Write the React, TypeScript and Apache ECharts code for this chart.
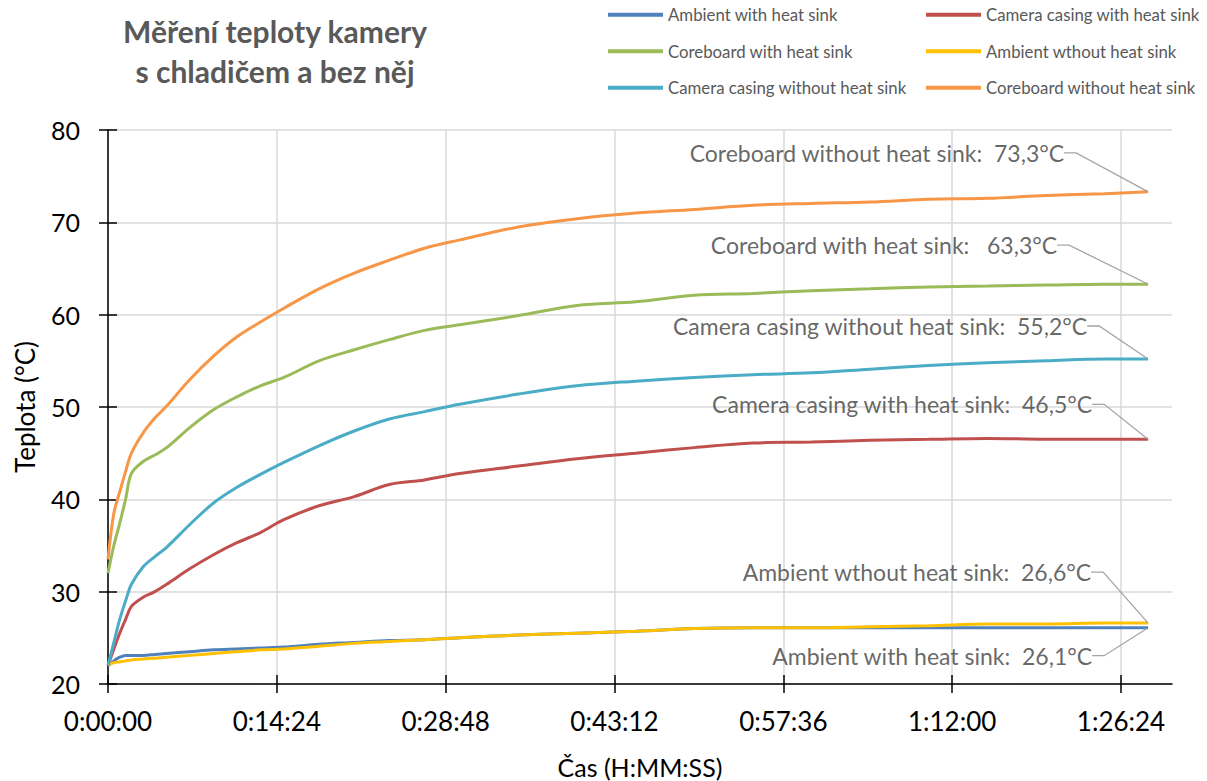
import React, { useEffect, useRef } from 'react';
import * as echarts from 'echarts';

// ---- data ----
const timeSec = [0, 30, 60, 90, 120, 180, 240, 300, 420, 540, 660, 780, 900, 1080, 1260, 1440, 1620, 1800, 2100, 2400, 2700, 3000, 3300, 3600, 3900, 4200, 4500, 4800, 5100, 5323];

const ambientWith = [22.0, 22.5, 22.9, 23.1, 23.1, 23.1, 23.2, 23.3, 23.5, 23.7, 23.8, 23.9, 24.0, 24.3, 24.5, 24.7, 24.8, 25.0, 25.3, 25.5, 25.7, 26.0, 26.1, 26.1, 26.1, 26.1, 26.1, 26.1, 26.1, 26.1];
const cameraWith = [22.0, 23.8, 25.5, 27.0, 28.4, 29.4, 30.0, 30.8, 32.5, 34.0, 35.3, 36.4, 37.8, 39.3, 40.3, 41.6, 42.1, 42.8, 43.6, 44.4, 45.0, 45.6, 46.1, 46.2, 46.4, 46.5, 46.6, 46.5, 46.5, 46.5];
const coreWith = [32.0, 35.0, 37.4, 40.0, 42.8, 44.1, 44.8, 45.6, 47.8, 49.7, 51.1, 52.3, 53.2, 55.0, 56.2, 57.3, 58.3, 58.9, 59.9, 61.0, 61.4, 62.1, 62.3, 62.6, 62.8, 63.0, 63.1, 63.2, 63.3, 63.3];
const ambientWithout = [22.1, 22.3, 22.4, 22.5, 22.6, 22.7, 22.8, 22.9, 23.1, 23.3, 23.5, 23.7, 23.8, 24.1, 24.4, 24.6, 24.8, 25.0, 25.3, 25.5, 25.7, 26.0, 26.1, 26.1, 26.2, 26.3, 26.5, 26.5, 26.6, 26.6];
const cameraWithout = [22.0, 24.5, 27.0, 29.0, 30.8, 32.7, 33.8, 34.8, 37.3, 39.6, 41.3, 42.7, 44.0, 45.8, 47.4, 48.7, 49.5, 50.3, 51.4, 52.3, 52.8, 53.2, 53.5, 53.7, 54.1, 54.5, 54.8, 55.0, 55.2, 55.2];
const coreWithout = [33.5, 38.5, 40.8, 43.0, 45.0, 47.2, 48.8, 50.1, 53.0, 55.5, 57.6, 59.2, 60.7, 62.8, 64.5, 65.9, 67.2, 68.1, 69.5, 70.4, 71.0, 71.4, 71.85, 72.05, 72.2, 72.5, 72.6, 72.9, 73.1, 73.3];

const seriesNames = [
  'Ambient with heat sink',
  'Camera casing with heat sink',
  'Coreboard with heat sink',
  'Ambient wthout heat sink',
  'Camera casing without heat sink',
  'Coreboard without heat sink',
];
const seriesValues = [ambientWith, cameraWith, coreWith, ambientWithout, cameraWithout, coreWithout];
const seriesColors = ['#4F81BD', '#C0504D', '#9BBB59', '#FFC000', '#4BACC6', '#F79646'];

const xTickValues = [0, 864, 1728, 2592, 3456, 4320, 5184];
const xMin = 0;
const xMax = 5445;
const yMin = 20;
const yMax = 80;
const yInterval = 10;

const titleText = 'Měření teploty kamery\ns chladičem a bez něj';
const xAxisName = 'Čas (H:MM:SS)';
const yAxisName = 'Teplota (°C)';

// label placement styling (offsets from the end point, right padding)
const labelStyle = [
  { dx: -26, dy: 28, pad: 29, sep: '  ' },
  { dx: -39, dy: -35, pad: 16, sep: '  ' },
  { dx: -78, dy: -39, pad: 12, sep: '   ' },
  { dx: -42, dy: -51, pad: 14, sep: '  ' },
  { dx: -53, dy: -33, pad: 7, sep: '  ' },
  { dx: -73, dy: -39, pad: 10, sep: '  ' },
];

const FONT = 'Lato';

function pad2(n: number) {
  return n < 10 ? '0' + n : '' + n;
}
function fmtTime(v: number) {
  const s = Math.round(v);
  const h = Math.floor(s / 3600);
  const m = Math.floor((s % 3600) / 60);
  const sec = s % 60;
  return `${h}:${pad2(m)}:${pad2(sec)}`;
}
function fmtVal(v: number) {
  return v.toFixed(1).replace('.', ',');
}

export default function App() {
  const ref = useRef<HTMLDivElement>(null);
  useEffect(() => {
    if (!ref.current) return;
    const chart = echarts.init(ref.current, null, { renderer: 'svg' });
    const lastIdx = timeSec.length - 1;

    const lineSeries = seriesNames.map((name, i) => ({
      name,
      type: 'line',
      xAxisIndex: 0,
      yAxisIndex: 0,
      data: timeSec.map((t, k) => [t, seriesValues[i][k]]),
      smooth: 0.35,
      symbol: 'none',
      showSymbol: false,
      lineStyle: { width: 3, color: seriesColors[i] },
      itemStyle: { color: seriesColors[i] },
      z: 2 + i,
    }));

    const labelSeries = {
      name: '__labels',
      type: 'scatter',
      xAxisIndex: 0,
      yAxisIndex: 0,
      symbol: 'circle',
      symbolSize: 2,
      silent: true,
      z: 20,
      itemStyle: { color: 'rgba(0,0,0,0)' },
      data: seriesNames.map((name, i) => ({
        name,
        value: [timeSec[lastIdx], seriesValues[i][lastIdx]],
        label: { padding: [0, labelStyle[i].pad, 0, 0] },
      })),
      label: {
        show: true,
        position: 'left',
        distance: 0,
        fontFamily: FONT,
        fontSize: 23,
        color: '#404040',
        formatter: (p: any) => `${p.name}:${labelStyle[p.dataIndex].sep}${fmtVal(p.value[1])}°C`,
      },
      labelLine: {
        show: true,
        length2: 12,
        lineStyle: { color: '#A5A5A5', width: 1.3 },
      },
      labelLayout: (p: any) => ({ dx: labelStyle[p.dataIndex].dx, dy: labelStyle[p.dataIndex].dy }),
    };

    const axisLineStyle = { color: '#000', width: 1.5 };
    const gridRect = { left: 108, right: 35, top: 130, bottom: 97, containLabel: false, outerBoundsMode: 'none' };

    const legendCommon = {
      orient: 'vertical',
      top: 6,
      padding: 0,
      icon: 'rect',
      itemWidth: 55,
      itemHeight: 4,
      itemGap: 19,
      textStyle: { fontFamily: FONT, fontSize: 16.8, color: '#595959', lineHeight: 17.5 },
      selectedMode: false,
    };

    chart.setOption({
      animation: false,
      backgroundColor: '#fff',
      title: {
        text: titleText,
        left: 275,
        top: 11,
        padding: 0,
        textAlign: 'center',
        textStyle: { fontFamily: FONT, fontSize: 30, fontWeight: 'bold', color: '#595959', lineHeight: 40 },
      },
      legend: [
        { ...legendCommon, left: 608, data: [seriesNames[0], seriesNames[2], seriesNames[4]] },
        { ...legendCommon, left: 926, data: [seriesNames[1], seriesNames[3], seriesNames[5]] },
      ],
      grid: [gridRect, { ...gridRect }],
      xAxis: [
        {
          type: 'value',
          gridIndex: 0,
          min: xMin,
          max: xMax,
          position: 'bottom',
          axisLine: { show: true, onZero: false, lineStyle: axisLineStyle },
          axisTick: { show: true, inside: false, length: 9, customValues: xTickValues, lineStyle: axisLineStyle },
          axisLabel: {
            customValues: xTickValues,
            formatter: (v: number) => fmtTime(v),
            fontFamily: FONT,
            fontSize: 26,
            color: '#000',
            margin: 24,
          },
          splitLine: { show: true, lineStyle: { color: '#D9D9D9', width: 1.5 } },
          name: xAxisName,
          nameLocation: 'middle',
          nameGap: 70,
          nameTextStyle: { fontFamily: FONT, fontSize: 25, color: '#000' },
        },
        {
          type: 'value',
          gridIndex: 1,
          min: xMin,
          max: xMax,
          position: 'bottom',
          axisLine: { show: false, onZero: false },
          axisTick: { show: true, inside: true, length: 9, customValues: xTickValues, lineStyle: axisLineStyle },
          axisLabel: { show: false, customValues: xTickValues },
          splitLine: { show: false },
        },
      ],
      yAxis: [
        {
          type: 'value',
          gridIndex: 0,
          min: yMin,
          max: yMax,
          interval: yInterval,
          position: 'left',
          axisLine: { show: true, onZero: false, lineStyle: axisLineStyle },
          axisTick: { show: true, inside: false, length: 9, lineStyle: axisLineStyle },
          axisLabel: { fontFamily: FONT, fontSize: 25, color: '#000', margin: 28 },
          splitLine: { show: true, lineStyle: { color: '#D9D9D9', width: 1.5 } },
          name: yAxisName,
          nameLocation: 'middle',
          nameGap: 70,
          nameTextStyle: { fontFamily: FONT, fontSize: 26, color: '#000' },
        },
        {
          type: 'value',
          gridIndex: 1,
          min: yMin,
          max: yMax,
          interval: yInterval,
          position: 'left',
          axisLine: { show: false, onZero: false },
          axisTick: { show: true, inside: true, length: 9, lineStyle: axisLineStyle },
          axisLabel: { show: false },
          splitLine: { show: false },
        },
      ],
      series: [...lineSeries, labelSeries],
    });
    return () => chart.dispose();
  }, []);
  return <div ref={ref} style={{ position: 'fixed', left: 0, top: 0, width: 1207, height: 781 }} />;
}
